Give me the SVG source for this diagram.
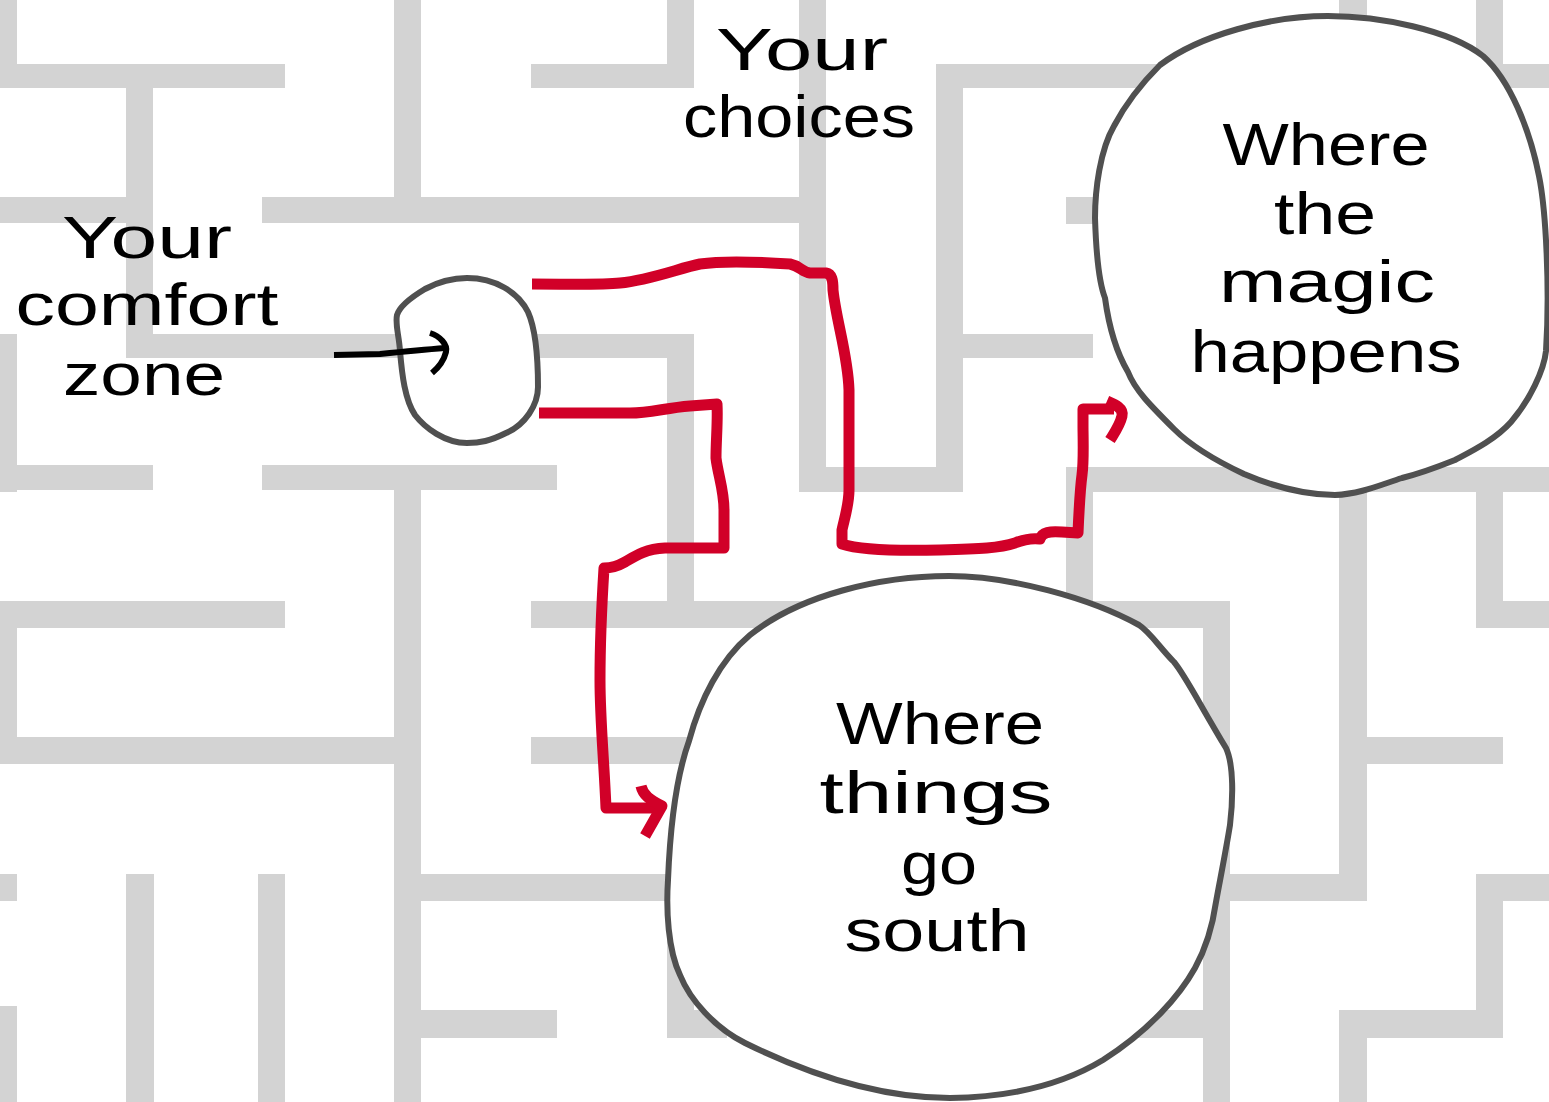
<svg xmlns="http://www.w3.org/2000/svg" width="1549" height="1102" viewBox="0 0 1549 1102">
<style>
.w{fill:#d3d3d3}
.blob{fill:#ffffff;stroke:#505050;stroke-width:6;stroke-linejoin:round}
.lbl{font-family:"Liberation Sans",Arial,sans-serif;font-size:59px;fill:#000;text-anchor:middle}
.red{fill:none;stroke:#d10028;stroke-width:11;stroke-linecap:butt;stroke-linejoin:round}
.blk{fill:none;stroke:#000;stroke-width:6;stroke-linecap:butt;stroke-linejoin:round}
</style>
<rect width="1549" height="1102" fill="#ffffff"/>
<g id="maze">
<rect class="w" x="0" y="0" width="17" height="88"/>
<rect class="w" x="0" y="64" width="285" height="24"/>
<rect class="w" x="126" y="64" width="27" height="294"/>
<rect class="w" x="394" y="0" width="27" height="223"/>
<rect class="w" x="0" y="197" width="153" height="26"/>
<rect class="w" x="262" y="197" width="564" height="26"/>
<rect class="w" x="531" y="64" width="163" height="24"/>
<rect class="w" x="667" y="0" width="27" height="88"/>
<rect class="w" x="799" y="0" width="27" height="492"/>
<rect class="w" x="799" y="467" width="164" height="25"/>
<rect class="w" x="936" y="64" width="27" height="428"/>
<rect class="w" x="936" y="64" width="264" height="24"/>
<rect class="w" x="963" y="334" width="130" height="24"/>
<rect class="w" x="1066" y="197" width="60" height="27"/>
<rect class="w" x="1339" y="0" width="28" height="901"/>
<rect class="w" x="1476" y="0" width="27" height="88"/>
<rect class="w" x="1476" y="64" width="73" height="24"/>
<rect class="w" x="1066" y="467" width="483" height="25"/>
<rect class="w" x="1066" y="467" width="27" height="161"/>
<rect class="w" x="1476" y="467" width="27" height="161"/>
<rect class="w" x="1476" y="601" width="73" height="27"/>
<rect class="w" x="126" y="334" width="568" height="24"/>
<rect class="w" x="0" y="334" width="17" height="158"/>
<rect class="w" x="0" y="465" width="153" height="25"/>
<rect class="w" x="262" y="465" width="295" height="25"/>
<rect class="w" x="394" y="465" width="27" height="637"/>
<rect class="w" x="667" y="334" width="27" height="294"/>
<rect class="w" x="0" y="601" width="285" height="27"/>
<rect class="w" x="0" y="601" width="17" height="163"/>
<rect class="w" x="0" y="737" width="421" height="27"/>
<rect class="w" x="531" y="601" width="699" height="27"/>
<rect class="w" x="1203" y="601" width="27" height="501"/>
<rect class="w" x="531" y="737" width="200" height="27"/>
<rect class="w" x="1367" y="737" width="136" height="27"/>
<rect class="w" x="1230" y="874" width="137" height="27"/>
<rect class="w" x="1476" y="874" width="27" height="164"/>
<rect class="w" x="1503" y="874" width="46" height="27"/>
<rect class="w" x="1339" y="1010" width="164" height="28"/>
<rect class="w" x="1339" y="1010" width="28" height="92"/>
<rect class="w" x="1090" y="1010" width="140" height="28"/>
<rect class="w" x="0" y="874" width="17" height="27"/>
<rect class="w" x="0" y="1006" width="17" height="96"/>
<rect class="w" x="126" y="874" width="28" height="228"/>
<rect class="w" x="258" y="874" width="27" height="228"/>
<rect class="w" x="421" y="874" width="273" height="27"/>
<rect class="w" x="421" y="1010" width="136" height="28"/>
<rect class="w" x="667" y="874" width="27" height="164"/>
<rect class="w" x="667" y="1010" width="60" height="28"/>
</g>
<g id="label-comfort">
<text class="lbl" x="147" y="258" textLength="170" lengthAdjust="spacingAndGlyphs">Your</text>
<text class="lbl" x="147" y="325" textLength="263" lengthAdjust="spacingAndGlyphs">comfort</text>
<text class="lbl" x="144" y="395" textLength="162" lengthAdjust="spacingAndGlyphs">zone</text>
</g>
<g id="label-choices">
<text class="lbl" x="802" y="70" textLength="172" lengthAdjust="spacingAndGlyphs">Your</text>
<text class="lbl" x="799" y="137" textLength="232" lengthAdjust="spacingAndGlyphs">choices</text>
</g>
<g id="node-comfort">
<path class="blob" d="M467,278 C495,278 518,292 528,312 C536,330 538,360 538,387 C538,405 525,425 506,433 C490,441 480,443 467,443 C445,443 425,428 415,415 C405,400 402,375 400,351 C399,335 395,325 397,315 C400,305 415,295 425,289 C440,281 452,278 467,278 Z"/>
</g>
<g id="node-magic">
<path class="blob" d="M1328,16 C1380,16 1450,30 1483,56 C1510,80 1530,130 1539,176 C1546,210 1550,290 1546,351 C1544,370 1530,400 1511,422 C1495,440 1470,452 1455,460 C1430,470 1410,476 1402,478 C1380,485 1360,494 1335,495 C1300,495 1270,485 1244,474 C1210,458 1190,445 1174,429 C1150,405 1135,390 1128,372 C1115,350 1108,320 1105,298 C1098,280 1096,250 1095,218 C1095,190 1100,150 1114,126 C1125,105 1140,85 1160,65 C1200,35 1270,16 1328,16 Z"/>
<text class="lbl" x="1326" y="165" textLength="207" lengthAdjust="spacingAndGlyphs">Where</text>
<text class="lbl" x="1325" y="234" textLength="102" lengthAdjust="spacingAndGlyphs">the</text>
<text class="lbl" x="1327" y="302" textLength="216" lengthAdjust="spacingAndGlyphs">magic</text>
<text class="lbl" x="1326" y="372" textLength="271" lengthAdjust="spacingAndGlyphs">happens</text>
</g>
<g id="node-south">
<path class="blob" d="M949,576 C1010,576 1090,598 1139,625 C1150,632 1160,648 1174,662 C1185,675 1200,705 1226,748 C1234,765 1233,800 1230,825 C1226,850 1220,880 1216,902 C1212,930 1205,950 1195,968 C1180,995 1150,1030 1103,1060 C1070,1080 1020,1097 950,1098 C880,1098 810,1075 745,1043 C715,1028 690,1000 680,975 C668,950 666,910 668,880 C670,830 675,780 689,741 C700,700 720,660 750,635 C800,595 880,576 949,576 Z"/>
<text class="lbl" x="940" y="744" textLength="208" lengthAdjust="spacingAndGlyphs">Where</text>
<text class="lbl" x="936" y="813" textLength="233" lengthAdjust="spacingAndGlyphs">things</text>
<text class="lbl" x="939" y="884" textLength="76" lengthAdjust="spacingAndGlyphs">go</text>
<text class="lbl" x="937" y="951" textLength="185" lengthAdjust="spacingAndGlyphs">south</text>
</g>
<g id="connectors">
<path class="blk" d="M334,355 L380,354 C400,352 420,350 445,348"/>
<path class="blk" d="M430,333 C440,336 448,345 446,352 C444,360 438,368 432,373"/>
<path class="red" d="M532,284 C570,284 600,285 620,283 C650,280 680,268 700,264 C720,261 760,262 790,264 C800,266 802,272 810,273 L826,273 C832,274 833,280 833,290 C836,320 848,355 849,390 L849,490 C849,505 844,520 842,530 L842,544 C860,550 900,551 940,550 C980,549 1000,548 1015,543 C1025,539 1032,538 1040,539 C1042,532 1050,531 1062,532 L1078,533 C1079,510 1080,490 1082,475 C1084,460 1083,440 1083,425 L1083,409 L1114,409"/>
<path class="red" d="M1107,401 C1114,404 1124,408 1122,416 C1120,425 1115,432 1110,440"/>
<path class="red" d="M539,413 L630,413 C650,413 665,408 690,406 L717,404 C718,420 716,440 716,458 C718,475 724,490 724,510 L724,548 L665,548 C645,549 635,556 625,562 C618,566 612,568 604,568 C602,600 600,640 600,680 C600,720 604,760 606,808 L662,808"/>
<path class="red" d="M641,786 C643,795 650,800 662,806 L645,836"/>
</g>
</svg>
